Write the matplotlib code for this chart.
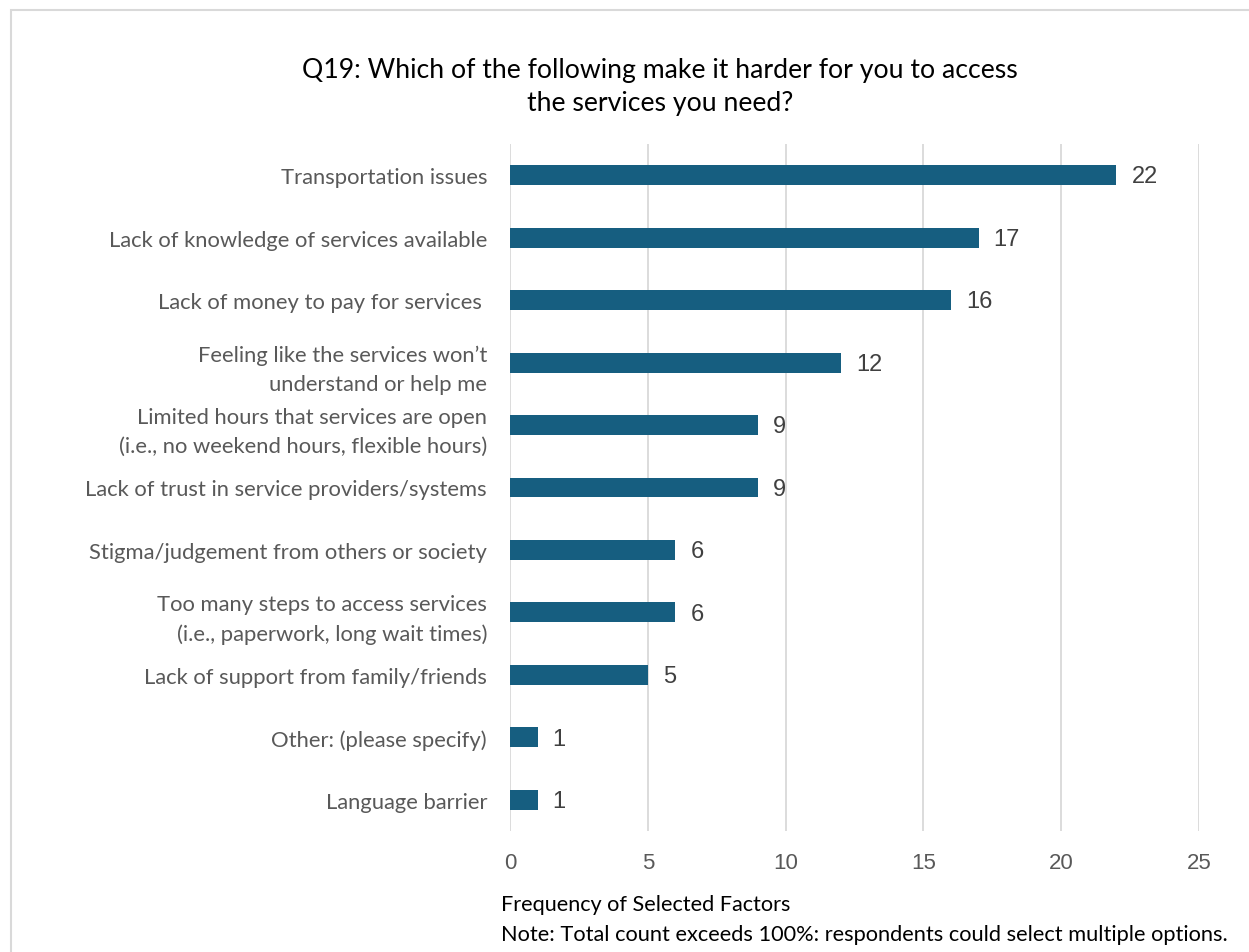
import matplotlib.pyplot as plt
from matplotlib.patches import Rectangle

categories = [
    "Transportation issues",
    "Lack of knowledge of services available",
    "Lack of money to pay for services ",
    "Feeling like the services won\u2019t\nunderstand or help me",
    "Limited hours that services are open\n(i.e., no weekend hours, flexible hours)",
    "Lack of trust in service providers/systems",
    "Stigma/judgement from others or society",
    "Too many steps to access services\n(i.e., paperwork, long wait times)",
    "Lack of support from family/friends",
    "Other: (please specify)",
    "Language barrier",
]
counts = [22, 17, 16, 12, 9, 9, 6, 6, 5, 1, 1]
xticks = [0, 5, 10, 15, 20, 25]

W, H = 1249, 953
fig = plt.figure(figsize=(W / 100, H / 100), dpi=100)

# frame around the chart
fig.patches.append(Rectangle((11 / W, -0.1), 1.2, 1 - 11 / H + 0.1,
                             transform=fig.transFigure, fill=False,
                             edgecolor="#d9d9d9", linewidth=1.5))

ax = fig.add_axes([510 / W, 1 - 832 / H, (1199 - 510) / W, (832 - 145) / H])
ypos = list(range(len(categories)))
ax.barh(ypos, counts, height=0.32, color="#165e80", zorder=3)
ax.set_ylim(len(categories) - 0.5, -0.5)
ax.set_xlim(0, 25)
ax.set_xticks(xticks)
ax.set_xticklabels([str(t) for t in xticks], fontfamily="Liberation Sans",
                   fontsize=16, color="#595959")
ax.tick_params(axis="x", length=0, pad=15)
ax.set_yticks(ypos)
ax.set_yticklabels(categories, fontfamily="Lato", fontsize=15.8,
                   color="#595959", linespacing=1.55)
ax.tick_params(axis="y", length=0, pad=16.5)
for s in ax.spines.values():
    s.set_visible(False)
ax.grid(axis="x", color="#d9d9d9", linewidth=1.3, zorder=0)

for y, v in zip(ypos, counts):
    ax.text(v + 0.55, y + 0.02, str(v), va="center", ha="left",
            fontfamily="Liberation Sans", fontsize=17, color="#404040")

fig.text(660 / W, 1 - 87 / H,
         "Q19: Which of the following make it harder for you to access\nthe services you need?",
         ha="center", va="center", fontfamily="Lato", fontsize=19.2,
         color="black", linespacing=1.4)

fig.text(501 / W, 1 - 905 / H, "Frequency of Selected Factors", ha="left",
         va="center", fontfamily="Lato", fontsize=15.6, color="black")
fig.text(501 / W, 1 - 935 / H,
         "Note: Total count exceeds 100%: respondents could select multiple options.",
         ha="left", va="center", fontfamily="Lato", fontsize=15.7, color="black")

fig.savefig("out.png", dpi=100)
